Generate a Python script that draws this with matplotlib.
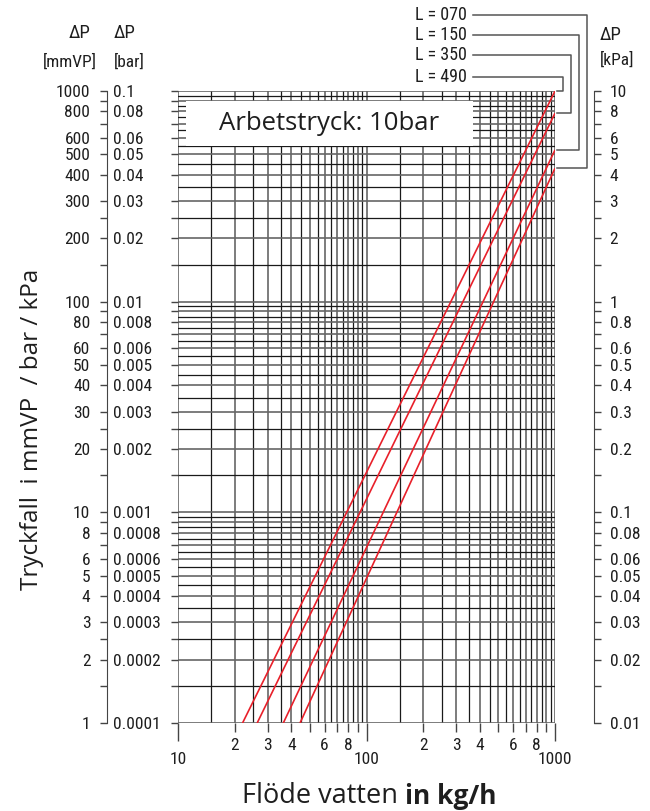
import numpy as np
import matplotlib
matplotlib.use("Agg")
import matplotlib.pyplot as plt
from matplotlib import font_manager as fm
from matplotlib.ticker import FixedLocator, FuncFormatter, NullFormatter
from matplotlib.lines import Line2D
from matplotlib.patches import Rectangle

# ---------------- data ----------------
series_labels = ["L = 070", "L = 150", "L = 350", "L = 490"]
flow_070 = [44.4, 1000]
dp_070 = [1, 430]
flow_150 = [36.2, 1000]
dp_150 = [1, 525]
flow_350 = [26.3, 1000]
dp_350 = [1, 785]
flow_490 = [22.0, 1000]
dp_490 = [1, 1000]

y_label_vals = [1, 2, 3, 4, 5, 6, 8, 10, 20, 30, 40, 50, 60, 80,
                100, 200, 300, 400, 500, 600, 800, 1000]
y_minor_vals = [1.5, 2.5, 7, 9, 15, 25, 70, 90, 150, 250, 700, 900]
x_major_vals = [10, 100, 1000]
x_minor_vals = [20, 30, 40, 50, 60, 70, 80, 90, 200, 300, 400, 500, 600, 700, 800, 900]
x_minor_labeled = [2, 3, 4, 6, 8]

title_text = "Arbetstryck: 10bar"
ylabel_text = "Tryckfall  i mmVP  / bar / kPa"
xlabel_plain = "Flöde vatten "
xlabel_bold = "in kg/h"

# ---------------- fonts ----------------
names = {f.name for f in fm.fontManager.ttflist}
if "Liberation Sans Narrow" in names:
    NARROW, NS = "Liberation Sans Narrow", 13
elif "Roboto Condensed" in names:
    NARROW, NS = "Roboto Condensed", 12.5
elif "Roboto" in names:
    NARROW, NS = "Roboto", 11.5
else:
    NARROW, NS = "Noto Sans", 11
WIDE = "Open Sans" if "Open Sans" in names else "DejaVu Sans"
plt.rcParams["font.family"] = [NARROW, "DejaVu Sans"]

W, H = 650, 811
fig = plt.figure(figsize=(W / 100, H / 100), dpi=100)
fig.patch.set_facecolor("white")


def fx(px):
    return px / W


def fy(py):
    return 1 - py / H


X0, X1, Y0, Y1 = 178, 555, 91, 723
TICK = "#444444"
TXT = "#1e1e1e"

ax = fig.add_axes([fx(X0), fy(Y1), (X1 - X0) / W, (Y1 - Y0) / H])
ax.set_xscale("log")
ax.set_yscale("log")
ax.set_xlim(10, 1000)
ax.set_ylim(1, 1000)
for s in ax.spines.values():
    s.set_visible(False)
ax.patch.set_alpha(0)

# grid lines every half unit per decade
steps = np.arange(1, 10, 0.5)
gx = [d * s for d in (10, 100) for s in steps] + [1000]
gy = [d * s for d in (1, 10, 100) for s in steps] + [1000]
for i, v in enumerate(gx):
    ax.axvline(v, color="#666666" if i % 2 == 0 else "#1a1a1a",
               lw=1.2 if i % 2 == 0 else 0.9, zorder=1)
for i, v in enumerate(gy):
    ax.axhline(v, color="#666666" if i % 2 == 0 else "#1a1a1a",
               lw=1.2 if i % 2 == 0 else 0.9, zorder=1)

# white title box
bx0 = (186 - X0) / (X1 - X0)
bx1 = (473 - X0) / (X1 - X0)
by0 = (Y1 - 146) / (Y1 - Y0)
by1 = (Y1 - 101) / (Y1 - Y0)
ax.add_patch(Rectangle((bx0, by0), bx1 - bx0, by1 - by0, transform=ax.transAxes,
                       facecolor="white", edgecolor="none", zorder=2))
ax.text((bx0 + bx1) / 2, (by0 + by1) / 2, title_text, transform=ax.transAxes,
        ha="center", va="center", fontsize=18.5, family=WIDE, color=TXT, zorder=3)

# red curves
series = [(flow_070, dp_070), (flow_150, dp_150), (flow_350, dp_350), (flow_490, dp_490)]
for fl, dp in series:
    ax.plot(fl, dp, color="#e8202a", lw=1.2, zorder=4, solid_capstyle="butt")

# x ticks
ax.xaxis.set_major_locator(FixedLocator(x_major_vals))
ax.xaxis.set_minor_locator(FixedLocator(x_minor_vals))
ax.xaxis.set_major_formatter(FuncFormatter(lambda v, p: "%d" % round(v)))


def minor_fmt(v, p):
    d = int(round(v / 10 ** np.floor(np.log10(v) + 1e-9)))
    return str(d) if d in x_minor_labeled else ""


ax.xaxis.set_minor_formatter(FuncFormatter(minor_fmt))
ax.tick_params(axis="x", which="major", length=13, width=1.0, color=TICK,
               labelsize=NS, pad=8, direction="out", labelcolor=TXT)
ax.tick_params(axis="x", which="minor", length=6.5, width=1.0, color=TICK,
               labelsize=NS, pad=4.5, direction="out", labelcolor=TXT)

# y ticks (short outward marks on left edge only)
ax.yaxis.set_major_locator(FixedLocator(y_label_vals))
ax.yaxis.set_minor_locator(FixedLocator(y_minor_vals))
ax.yaxis.set_major_formatter(NullFormatter())
ax.yaxis.set_minor_formatter(NullFormatter())
ax.tick_params(axis="y", which="both", length=5, width=1.0, color=TICK, direction="out",
               left=True, right=False)

# -------- left axis (mmVP & bar) --------
axL = fig.add_axes([fx(107), fy(Y1), 0.0005, (Y1 - Y0) / H])
axL.set_yscale("log")
axL.set_ylim(1, 1000)
axL.patch.set_alpha(0)
for k, s in axL.spines.items():
    s.set_visible(k == "left")
axL.spines["left"].set_color(TICK)
axL.set_xticks([])
axL.yaxis.set_major_locator(FixedLocator(y_label_vals))
axL.yaxis.set_minor_locator(FixedLocator(y_minor_vals))
axL.yaxis.set_major_formatter(FuncFormatter(lambda v, p: "%d" % round(v)))
axL.yaxis.set_minor_formatter(NullFormatter())
axL.tick_params(axis="y", which="both", length=5, width=1.0, color=TICK, direction="out",
                labelsize=NS, pad=7, labelcolor=TXT)

axB = axL.twinx()
axB.set_yscale("log")
axB.set_ylim(1, 1000)
for s in axB.spines.values():
    s.set_visible(False)
axB.yaxis.set_major_locator(FixedLocator(y_label_vals))
axB.yaxis.set_minor_locator(FixedLocator([]))
axB.yaxis.set_major_formatter(FuncFormatter(lambda v, p: "%g" % (v / 10000.0)))
axB.tick_params(axis="y", which="both", length=0, labelsize=NS, pad=4, labelcolor=TXT)

# -------- right axis (kPa) --------
axR = fig.add_axes([fx(594), fy(Y1), 0.0005, (Y1 - Y0) / H])
axR.set_yscale("log")
axR.set_ylim(1, 1000)
axR.patch.set_alpha(0)
for k, s in axR.spines.items():
    s.set_visible(k == "right")
axR.spines["right"].set_color(TICK)
axR.set_xticks([])
axR.yaxis.tick_right()
axR.yaxis.set_major_locator(FixedLocator(y_label_vals))
axR.yaxis.set_minor_locator(FixedLocator(y_minor_vals))
axR.yaxis.set_major_formatter(FuncFormatter(lambda v, p: "%g" % (v / 100.0)))
axR.yaxis.set_minor_formatter(NullFormatter())
axR.tick_params(axis="y", which="both", length=5, width=1.0, color=TICK, direction="out",
                labelsize=NS, pad=6, labelcolor=TXT)

# -------- headers --------
HS = NS + 1
fig.text(fx(91), fy(33), "ΔP", ha="right", va="center", fontsize=HS, color=TXT)
fig.text(fx(70), fy(62), "[mmVP]", ha="center", va="center", fontsize=NS, color=TXT)
fig.text(fx(114), fy(33), "ΔP", ha="left", va="center", fontsize=HS, color=TXT)
fig.text(fx(114), fy(62), "[bar]", ha="left", va="center", fontsize=NS, color=TXT)
fig.text(fx(600), fy(35), "ΔP", ha="left", va="center", fontsize=HS, color=TXT)
fig.text(fx(600), fy(60), "[kPa]", ha="left", va="center", fontsize=NS, color=TXT)

# -------- legend with connectors --------
label_y = [15, 35, 55, 77]
vert_x = [587, 579, 571, 563]
fig.canvas.draw()
for lab, ly, vx, (fl, dp) in zip(series_labels, label_y, vert_x, series):
    fig.text(fx(467), fy(ly), lab, ha="right", va="center", fontsize=NS + 0.5, color=TXT)
    ex, ey = ax.transData.transform((fl[-1], dp[-1]))
    ey_px = H - ey
    xs = [fx(473), fx(vx), fx(vx), fx(557)]
    ys = [fy(ly), fy(ly), fy(ey_px), fy(ey_px)]
    fig.add_artist(Line2D(xs, ys, transform=fig.transFigure, color="#555555", lw=1.1))

# -------- axis titles --------
fig.text(fx(32), fy(429), ylabel_text, rotation=90, ha="center", va="center",
         fontsize=17.5, family=WIDE, color=TXT)

t1 = fig.text(fx(242), fy(796), xlabel_plain, ha="left", va="center",
              fontsize=19.5, family=WIDE, color=TXT)
fig.canvas.draw()
bb = t1.get_window_extent(renderer=fig.canvas.get_renderer())
fig.text(bb.x1 / W, fy(796), xlabel_bold, ha="left", va="center",
         fontsize=19, family=WIDE, weight="bold", color=TXT)

fig.savefig("out.png", dpi=100, facecolor="white")
